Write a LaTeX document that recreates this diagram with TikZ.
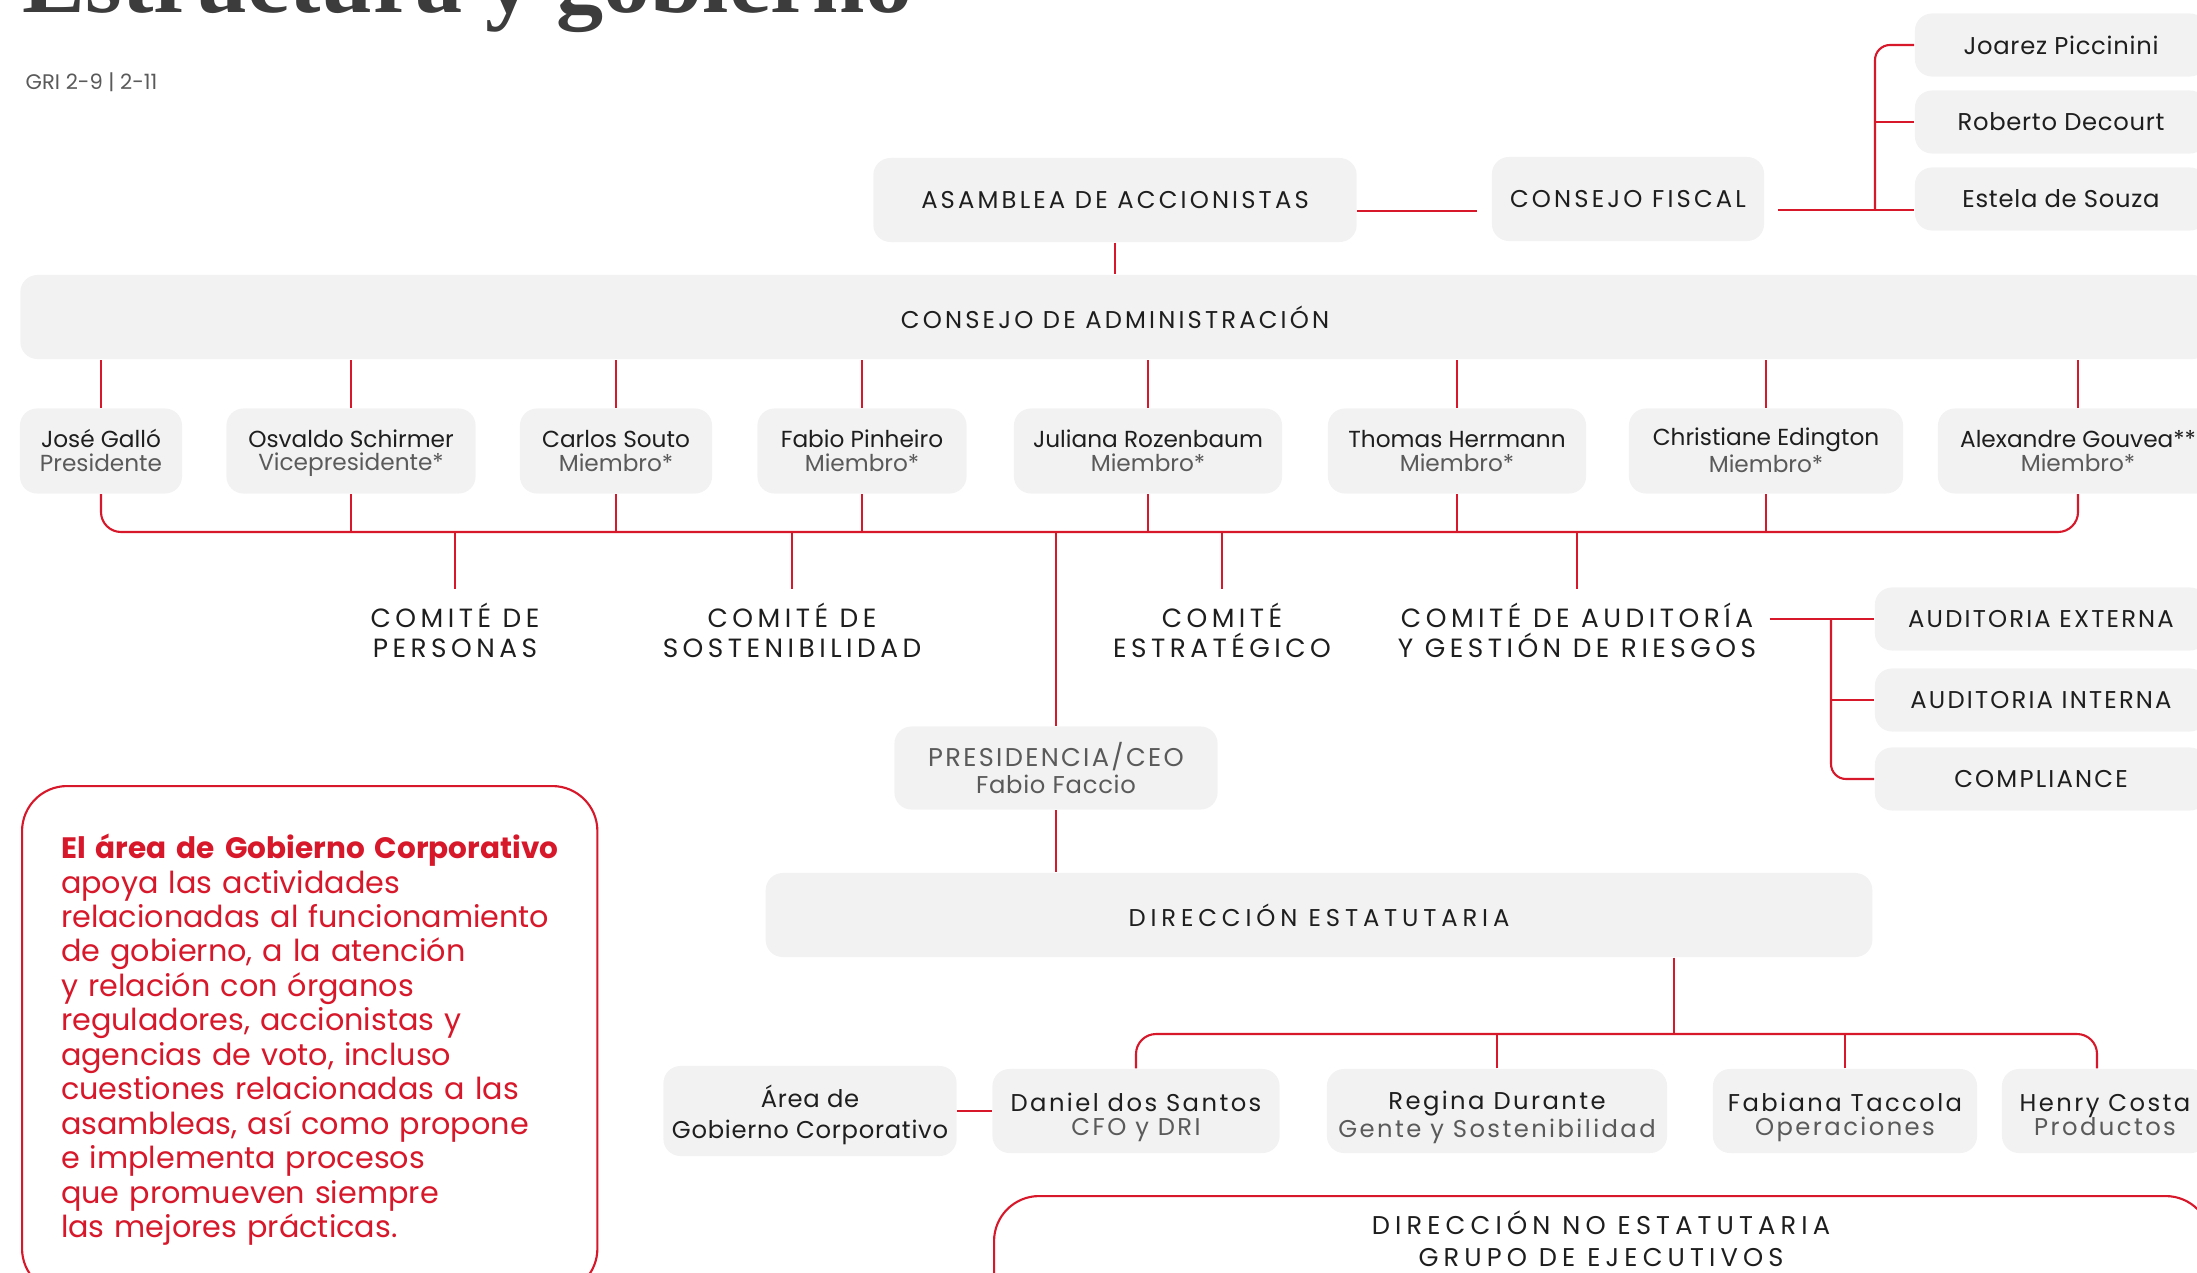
\documentclass[tikz,border=0pt]{standalone}
\usepackage{fontspec}
\setmainfont{Poppins}
\newfontfamily\capsfont[LetterSpace=13]{Poppins}
\newfontfamily\boxfont[LetterSpace=9]{Poppins}
\newfontfamily\widecaps[LetterSpace=20]{Poppins}
\newfontfamily\comfont[LetterSpace=17]{Poppins}
\newfontfamily\namefont[LetterSpace=0]{Poppins}
\newfontfamily\smallname[LetterSpace=3]{Poppins}
\newfontfamily\execfont[LetterSpace=10]{Poppins}
\newfontfamily\titlefont[FakeStretch=1.03]{Liberation Serif}
\definecolor{brandred}{HTML}{D7182A}
\definecolor{boxgray}{HTML}{F2F2F2}
\definecolor{inkdark}{HTML}{1E1E1E}
\definecolor{inkgray}{HTML}{5A5A5A}
\definecolor{titlegray}{HTML}{3C3C3C}
\newcommand{\duo}[3][0.95em]{\rule{0pt}{#1}#2\\\textcolor{inkgray}{#3}\rule[-0.25em]{0pt}{0.25em}}
\begin{document}
\begin{tikzpicture}[
  x=0.01cm, y=-0.01cm,
  box/.style={fill=boxgray, rounded corners=0.17cm, align=center, inner sep=0pt, text=inkdark},
  capsbox/.style={box, minimum height=0.84cm, font=\capsfont\fontsize{6.9}{8}\selectfont},
  smallbox/.style={box, minimum height=0.63cm, minimum width=2.92cm, font=\smallname\fontsize{6.9}{8}\selectfont},
  auditbox/.style={box, minimum height=0.63cm, minimum width=3.32cm, font=\boxfont\fontsize{6.9}{8}\selectfont},
  member/.style={box, minimum height=0.85cm, font=\namefont\fontsize{6.6}{6.8}\selectfont},
  exec/.style={box, minimum height=0.84cm, font=\execfont\fontsize{6.9}{6.9}\selectfont},
  comite/.style={anchor=north, align=center, inner sep=0.13cm, text=inkdark, font=\comfont\fontsize{7.5}{8.5}\selectfont},
  outlinebox/.style={draw=brandred, line width=0.6pt, rounded corners=0.45cm, inner sep=0pt},
  link/.style={draw=brandred, line width=0.6pt}
]
\useasboundingbox (0,0) rectangle (2197,1273);
\clip (0,0) rectangle (2197,1273);

\node[anchor=base west, inner sep=0pt, text=titlegray, font=\titlefont\bfseries\fontsize{26}{26}\selectfont] (titulo) at (22,13) {Estructura y gobierno};
\node[anchor=west, inner sep=0pt, text=inkgray, font=\fontsize{6}{6}\selectfont] (gri) at (25,82) {GRI 2-9 | 2-11};

\node[capsbox, minimum width=4.83cm] (asamblea) at (1115,200) {ASAMBLEA DE ACCIONISTAS};
\node[capsbox, minimum width=2.72cm] (fiscal) at (1628,199) {CONSEJO FISCAL};
\node[smallbox] (joarez) at (2061,45) {Joarez Piccinini};
\node[smallbox] (roberto) at (2061,122) {Roberto Decourt};
\node[smallbox] (estela) at (2061,199) {Estela de Souza};
\node[capsbox, minimum width=21.88cm] (consejo) at (1115,317) {CONSEJO DE ADMINISTRACIÓN};

\node[member, minimum width=1.62cm] (jose) at (101,451) {\duo{José Galló}{Presidente}};
\node[member, minimum width=2.49cm] (osvaldo) at (351,451) {\duo{Osvaldo Schirmer}{Vicepresidente*}};
\node[member, minimum width=1.92cm] (carlos) at (616,451) {\duo{Carlos Souto}{Miembro*}};
\node[member, minimum width=2.09cm] (fabio) at (862,451) {\duo{Fabio Pinheiro}{Miembro*}};
\node[member, minimum width=2.68cm] (juliana) at (1148,451) {\duo{Juliana Rozenbaum}{Miembro*}};
\node[member, minimum width=2.58cm] (thomas) at (1457,451) {\duo{Thomas Herrmann}{Miembro*}};
\node[member, minimum width=2.74cm] (christiane) at (1766,451) {\duo{Christiane Edington}{Miembro*}};
\node[member, minimum width=2.80cm] (alexandre) at (2078,451) {\duo{Alexandre Gouvea**}{Miembro*}};

\node[comite] (personas) at (455,589) {COMITÉ DE\\PERSONAS};
\node[comite] (sosten) at (792,589) {COMITÉ DE\\SOSTENIBILIDAD};
\node[comite] (estrat) at (1222,589) {COMITÉ\\ESTRATÉGICO};
\node[comite] (audit) at (1577,589) {COMITÉ DE AUDITORÍA\\Y GESTIÓN DE RIESGOS};

\node[auditbox] (externa) at (2041,619) {AUDITORIA EXTERNA};
\node[auditbox] (interna) at (2041,700) {AUDITORIA INTERNA};
\node[auditbox] (compliance) at (2041,779) {COMPLIANCE};

\node[box, minimum width=3.23cm, minimum height=0.83cm, text=inkgray, font=\smallname\fontsize{6.9}{7.6}\selectfont] (ceo) at (1056,768) {{\boxfont\fontsize{7.3}{7.6}\selectfont PRESIDENCIA/CEO}\\Fabio Faccio};
\node[box, minimum width=11.06cm, minimum height=0.84cm, font=\widecaps\fontsize{6.9}{8}\selectfont] (dir) at (1319,915) {DIRECCIÓN ESTATUTARIA};

\node[exec, minimum width=2.93cm, minimum height=0.9cm, font=\smallname\fontsize{6.9}{8.8}\selectfont] (area) at (810,1111) {\rule{0pt}{1.28em}Área de\\Gobierno Corporativo\rule[-0.25em]{0pt}{0.25em}};
\node[exec, minimum width=2.87cm] (daniel) at (1136,1111) {\duo[1.28em]{Daniel dos Santos}{CFO y DRI}};
\node[exec, minimum width=3.40cm] (regina) at (1497,1111) {\duo[1.28em]{Regina Durante}{Gente y Sostenibilidad}};
\node[exec, minimum width=2.64cm] (fabiana) at (1845,1111) {\duo[1.28em]{Fabiana Taccola}{Operaciones}};
\node[exec, minimum width=2.06cm] (henry) at (2105,1111) {\duo[1.28em]{Henry Costa}{Productos}};

\node[outlinebox, anchor=north west, minimum width=12.16cm, minimum height=1.2cm] (noest) at (993,1195) {};
\node[align=center, text=inkdark, font=\widecaps\fontsize{7.3}{9.1}\selectfont] (noestlabel) at (1601,1239) {DIRECCIÓN NO ESTATUTARIA\\GRUPO DE EJECUTIVOS};

\node[outlinebox, anchor=north west, align=left, text width=4.97cm, inner xsep=0.39cm, inner ysep=0.48cm, text=brandred, font=\fontsize{8.6}{9.8}\selectfont] (nota) at (21,785) {\mbox{\fontsize{8.4}{9.8}\selectfont\textbf{El área de Gobierno Corporativo}}\\apoya las actividades\\relacionadas al funcionamiento\\de gobierno, a la atención\\y relación con órganos\\reguladores, accionistas y\\agencias de voto, incluso\\cuestiones relacionadas a las\\asambleas, así como propone\\e implementa procesos\\que promueven siempre\\las mejores prácticas.};

\coordinate (fj) at (1875,210);
\coordinate (mbus) at (1056,532);
\coordinate (aj) at (1831,619);
\coordinate (dbus) at (1674,1034);

\draw[link, shorten >=0.14cm] ([yshift=-0.11cm]asamblea.east) -- ([yshift=-0.11cm]asamblea.east -| fiscal.west);
\draw[link, shorten <=0.13cm] ([yshift=-0.11cm]fiscal.east) -- ([yshift=-0.11cm]fiscal.east -| estela.west);
\draw[link, rounded corners=0.15cm] (fj) |- (joarez.west);
\draw[link] (fj |- roberto.west) -- (roberto.west);
\draw[link] (asamblea.south) -- (consejo.north);

\draw[link] (jose.north) -- (jose.north |- consejo.south);
\draw[link] (osvaldo.north) -- (osvaldo.north |- consejo.south);
\draw[link] (carlos.north) -- (carlos.north |- consejo.south);
\draw[link] (fabio.north) -- (fabio.north |- consejo.south);
\draw[link] (juliana.north) -- (juliana.north |- consejo.south);
\draw[link] (thomas.north) -- (thomas.north |- consejo.south);
\draw[link] (christiane.north) -- (christiane.north |- consejo.south);
\draw[link] (alexandre.north) -- (alexandre.north |- consejo.south);

\draw[link, rounded corners=0.2cm] (jose.south) |- (mbus) -| (alexandre.south);
\draw[link] (osvaldo.south) -- (osvaldo.south |- mbus);
\draw[link] (carlos.south) -- (carlos.south |- mbus);
\draw[link] (fabio.south) -- (fabio.south |- mbus);
\draw[link] (juliana.south) -- (juliana.south |- mbus);
\draw[link] (thomas.south) -- (thomas.south |- mbus);
\draw[link] (christiane.south) -- (christiane.south |- mbus);

\draw[link] (personas.north |- mbus) -- (personas.north);
\draw[link] (sosten.north |- mbus) -- (sosten.north);
\draw[link] (estrat.north |- mbus) -- (estrat.north);
\draw[link] (audit.north |- mbus) -- (audit.north);
\draw[link] (ceo.north |- mbus) -- (ceo.north);

\draw[link] (audit.east |- externa.west) -- (externa.west);
\draw[link, rounded corners=0.15cm] (aj) |- (compliance.west);
\draw[link] (aj |- interna.west) -- (interna.west);

\draw[link] (ceo.south) -- (ceo.south |- dir.north);
\draw[link] (dir.south -| dbus) -- (dbus);
\draw[link, rounded corners=0.2cm] (daniel.north) |- (dbus) -| ([xshift=-0.08cm]henry.north);
\draw[link] (regina.north) -- (regina.north |- dbus);
\draw[link] (fabiana.north) -- (fabiana.north |- dbus);
\draw[link] (area.east) -- (daniel.west);
\end{tikzpicture}
\end{document}
